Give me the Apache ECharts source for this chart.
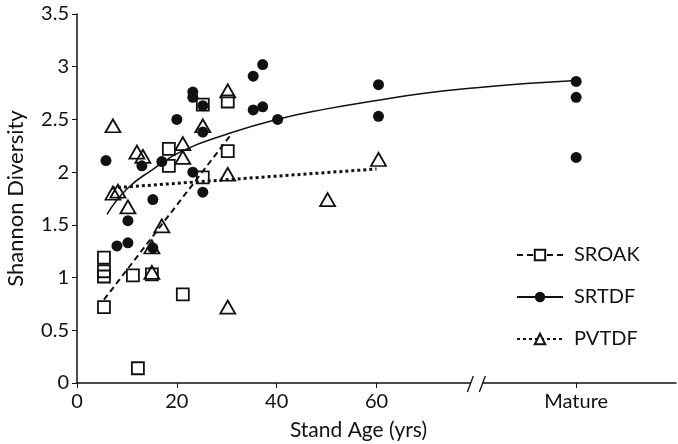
<!DOCTYPE html>
<html>
<head>
<meta charset="utf-8">
<script src="https://cdn.jsdelivr.net/npm/echarts@6/dist/echarts.min.js"></script>
<style>
  html, body { margin: 0; padding: 0; background: #fff; }
  #chart { width: 678px; height: 444px; }
</style>
</head>
<body>
<div id="chart"></div>
<script>
// x = stand age (yrs); "Mature" plotted at 100, axis break at 80
var xTicks = [0, 20, 40, 60, 100];
var matureX = 100;
var breakX = 80;

var sroak = [[5.4, 1.19], [5.4, 1.06], [5.4, 1.01], [5.4, 0.72], [11.2, 1.02], [12.2, 0.14],
    [15, 1.03], [18.4, 2.22], [18.4, 2.06], [21.2, 0.84], [25.2, 2.64], [25.2, 1.95],
    [30.2, 2.67], [30.2, 2.2]];
var srtdf = [[5.8, 2.11], [8, 1.3], [10.2, 1.33], [10.2, 1.54], [13, 2.06], [15.2, 1.28],
    [15.2, 1.74], [17, 2.1], [20, 2.5], [23.2, 2.76], [23.2, 2.71], [23.2, 2.0], [25.2, 2.63],
    [25.2, 2.38], [25.2, 1.81], [35.3, 2.91], [35.3, 2.59], [37.2, 3.02], [37.2, 2.62],
    [40.2, 2.5], [60.4, 2.83], [60.4, 2.53], [100, 2.86], [100, 2.71], [100, 2.14]];
var pvtdf = [[7.2, 2.44], [7.2, 1.8], [8.2, 1.82], [10.2, 1.67], [12, 2.19], [13.2, 2.15],
    [15, 1.29], [15, 1.05], [17, 1.49], [21.2, 2.27], [21.2, 2.14], [25.2, 2.44], [30.2, 2.77],
    [30.2, 1.98], [30.2, 0.72], [50.2, 1.74], [60.4, 2.12]];

// fitted trend lines
var sroakFit = [[5.4, 0.79], [30.6, 2.34]];
var srtdfFit = [[6, 1.6], [10, 1.84], [15, 2.02], [21, 2.2], [30, 2.36], [40, 2.5], [50, 2.6],
    [60, 2.68], [70, 2.75], [80, 2.8], [90, 2.84], [100, 2.87]];
var pvtdfFit = [[7, 1.85], [60, 2.03]];

var font = 'Lato';
var ink = '#111';

var chart = echarts.init(document.getElementById('chart'));

var option = {
    animation: false,
    textStyle: { fontFamily: font, color: ink },
    grid: { left: 77, right: 2, top: 14, bottom: 61, containLabel: false, outerBoundsMode: 'none' },
    legend: {
        orient: 'vertical',
        left: 511,
        top: 240,
        itemWidth: 46,
        itemHeight: 13,
        itemGap: 22,
        textStyle: { fontFamily: font, fontSize: 20, color: ink, padding: [0, 0, 0, 6] },
        data: ['SROAK', 'SRTDF', 'PVTDF']
    },
    xAxis: {
        type: 'value',
        min: 0,
        max: 120,
        interval: 20,
        splitLine: { show: false },
        axisLine: { lineStyle: { color: ink, width: 1.5 } },
        axisTick: { customValues: xTicks, length: 5, lineStyle: { color: ink } },
        axisLabel: {
            customValues: xTicks,
            fontSize: 20, color: ink, margin: 9,
            formatter: function (v) { return v === matureX ? 'Mature' : String(v); }
        },
        name: 'Stand Age (yrs)',
        nameLocation: 'middle',
        nameGap: 37,
        nameTextStyle: { fontSize: 21, color: ink, padding: [0, 36, 0, 0] }
    },
    yAxis: {
        type: 'value',
        min: 0,
        max: 3.5,
        interval: 0.5,
        splitLine: { show: false },
        axisLine: { show: true, lineStyle: { color: ink, width: 1.5 } },
        axisTick: { show: true, length: 5, lineStyle: { color: ink } },
        axisLabel: { fontSize: 20, color: ink, margin: 8 },
        name: 'Shannon Diversity',
        nameLocation: 'middle',
        nameGap: 50,
        nameTextStyle: { fontSize: 22, color: ink }
    },
    series: [
        {
            name: 'SROAK', type: 'line', data: sroakFit,
            symbol: 'rect', symbolSize: 10, showSymbol: false,
            itemStyle: { color: '#fff', borderColor: ink, borderWidth: 1.5 },
            lineStyle: { color: ink, width: 2, type: [6, 4] }
        },
        {
            name: 'SRTDF', type: 'line', data: srtdfFit, smooth: true,
            symbol: 'circle', symbolSize: 11, showSymbol: false,
            itemStyle: { color: ink },
            lineStyle: { color: ink, width: 1.5 }
        },
        {
            name: 'PVTDF', type: 'line', data: pvtdfFit,
            symbol: 'triangle', symbolSize: 12, showSymbol: false,
            itemStyle: { color: '#fff', borderColor: ink, borderWidth: 1.5 },
            lineStyle: { color: ink, width: 3, type: [3, 3] }
        },
        {
            name: 'SROAK', type: 'scatter', data: sroak,
            symbol: 'rect', symbolSize: 12,
            itemStyle: { color: 'transparent', borderColor: ink, borderWidth: 1.8, opacity: 1 }
        },
        {
            name: 'SRTDF', type: 'scatter', data: srtdf,
            symbol: 'circle', symbolSize: 11,
            itemStyle: { color: ink, opacity: 1 }
        },
        {
            name: 'PVTDF', type: 'scatter', data: pvtdf,
            symbol: 'triangle', symbolSize: [15, 13],
            itemStyle: { color: 'transparent', borderColor: ink, borderWidth: 1.8, opacity: 1 }
        }
    ]
};

chart.setOption(option);

// axis break mark "//" at breakX
var p = chart.convertToPixel({ xAxisIndex: 0, yAxisIndex: 0 }, [breakX, 0]);
chart.setOption({
    graphic: [
        { type: 'rect', shape: { x: p[0] - 6, y: p[1] - 3, width: 12, height: 6 }, style: { fill: '#fff' }, z: 100 },
        { type: 'line', shape: { x1: p[0] - 9, y1: p[1] + 9, x2: p[0] - 3, y2: p[1] - 7 }, style: { stroke: ink, lineWidth: 1.3 }, z: 101 },
        { type: 'line', shape: { x1: p[0] + 3, y1: p[1] + 9, x2: p[0] + 9, y2: p[1] - 7 }, style: { stroke: ink, lineWidth: 1.3 }, z: 101 }
    ]
});
</script>
</body>
</html>
